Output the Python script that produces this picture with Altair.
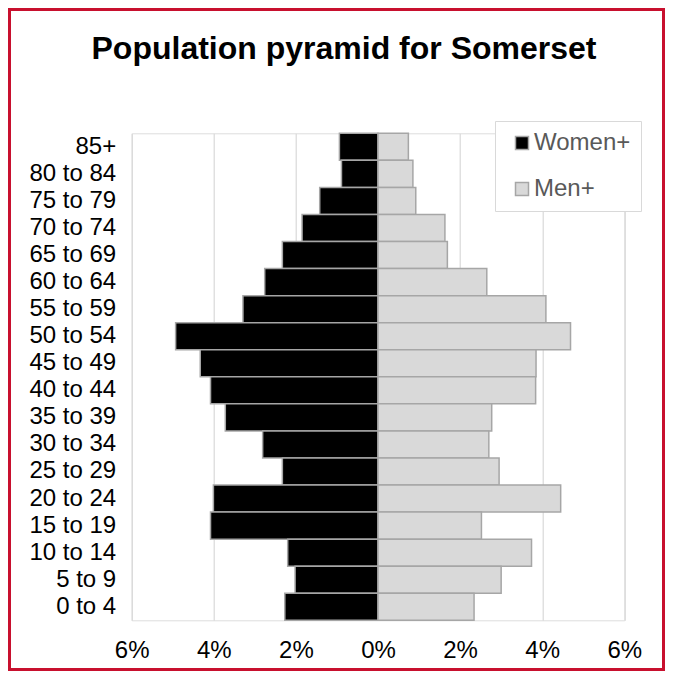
import altair as alt
import pandas as pd

ages = ["85+", "80 to 84", "75 to 79", "70 to 74", "65 to 69", "60 to 64",
        "55 to 59", "50 to 54", "45 to 49", "40 to 44", "35 to 39", "30 to 34",
        "25 to 29", "20 to 24", "15 to 19", "10 to 14", "5 to 9", "0 to 4"]
women = [0.94, 0.89, 1.42, 1.85, 2.33, 2.76, 3.29, 4.93, 4.33, 4.08, 3.72, 2.81,
         2.33, 4.01, 4.08, 2.20, 2.02, 2.27]
men = [0.74, 0.85, 0.92, 1.63, 1.69, 2.65, 4.09, 4.69, 3.85, 3.84, 2.77, 2.70,
       2.95, 4.45, 2.52, 3.74, 3.00, 2.34]
groups = ["Women+", "Men+"]
tick_vals = [-6, -4, -2, 0, 2, 4, 6]

rows = []
for a, w, m in zip(ages, women, men):
    rows.append({"age": a, "group": "Women+", "value": -w})
    rows.append({"age": a, "group": "Men+", "value": m})
df = pd.DataFrame(rows)

FONT = "Liberation Sans"
W, H = 492.6, 487
PL, PT, PR, PB = 123.7, 125.3, 40.7, 50.7

bars = alt.Chart(df).mark_bar(stroke="#a6a6a6", strokeWidth=1.5).encode(
    y=alt.Y("age:N", sort=ages, title=None,
            scale=alt.Scale(paddingInner=0, paddingOuter=0),
            axis=alt.Axis(labelFontSize=24, labelFont=FONT, labelColor="#000000",
                          labelPadding=16, ticks=False, domain=False, grid=False,
                          labelBaseline="middle")),
    x=alt.X("value:Q", title=None,
            scale=alt.Scale(domain=[-6, 6], nice=False, zero=False),
            axis=alt.Axis(values=tick_vals, labelExpr="abs(datum.value) + '%'",
                          labelFontSize=24, labelFont=FONT, labelColor="#000000",
                          labelPadding=18, labelFlush=False, ticks=False, domain=False,
                          grid=True, gridColor="#d9d9d9", gridWidth=1.2)),
    color=alt.Color("group:N", title=None,
                    scale=alt.Scale(domain=groups, range=["#000000", "#d9d9d9"]),
                    legend=alt.Legend(orient="none", legendX=363.3, legendY=-12.3,
                                      symbolType="square", symbolSize=169,
                                      symbolStrokeColor="#a6a6a6", symbolStrokeWidth=1.5,
                                      labelFontSize=24, labelFont=FONT,
                                      labelColor="#595959", labelOffset=0,
                                      labelExpr="datum.label + '\u00a0'",
                                      rowPadding=22, padding=10, symbolOffset=5,
                                      fillColor="#ffffff", strokeColor="#d9d9d9")),
    order=alt.Order("group:N"),
)

border = alt.Chart(alt.Data(values=[{}])).mark_rect(
    fill="transparent", stroke="#c8102e", strokeWidth=3
).encode(
    x=alt.value(-PL + 1.5), x2=alt.value(W + PR - 1.5),
    y=alt.value(-PT + 1.5), y2=alt.value(H + PB - 1.5),
)

chart = alt.layer(bars, border).properties(
    width=W, height=H,
    title=alt.TitleParams("Population pyramid for Somerset", font=FONT,
                          fontSize=32, fontWeight="bold", color="#000000",
                          anchor="middle", dx=-34, baseline="alphabetic", offset=-83.3),
    autosize=alt.AutoSizeParams(type="none"),
    padding={"left": PL, "top": PT, "right": PR, "bottom": PB},
).configure_view(stroke=None).configure(background="#ffffff")

chart.save("out.html", embed_options={"renderer": "svg", "actions": False})
